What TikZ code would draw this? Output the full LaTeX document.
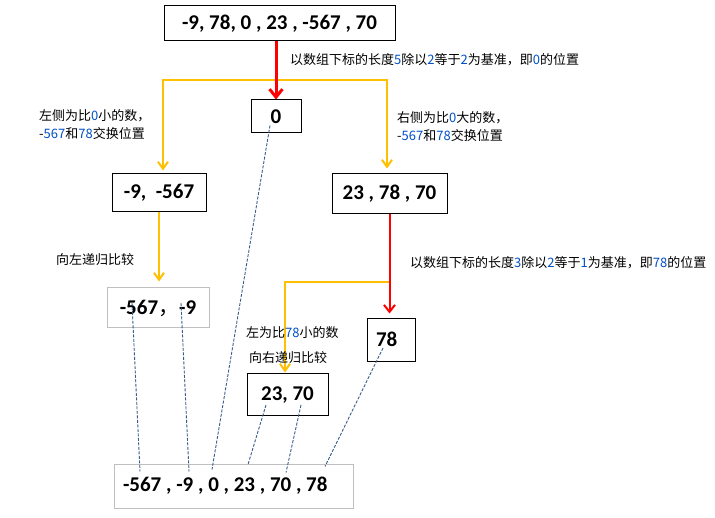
\documentclass[tikz,border=0pt]{standalone}
\usepackage{fontspec}
\setmainfont{Carlito}
\newfontfamily\cjk{Noto Sans CJK SC}
\usetikzlibrary{arrows.meta}
\definecolor{org}{RGB}{255,192,0}
\definecolor{rd}{RGB}{255,0,0}
\definecolor{dln}{RGB}{56,93,138}
\definecolor{nbl}{RGB}{0,80,200}
\definecolor{gbx}{RGB}{191,191,191}
\newcommand\bluenum[1]{\textcolor{nbl}{#1}}
\begin{document}
\begin{tikzpicture}[x=1pt,y=-1pt,
  box/.style={draw=black, line width=1pt, inner sep=0pt, font=\fontsize{21}{24}\selectfont\bfseries},
  gbox/.style={box, draw=gbx},
  lab/.style={inner sep=0pt, anchor=west, align=left, font=\cjk\fontsize{13}{18}\selectfont},
  redthick/.style={draw=rd, line width=3pt, -{Straight Barb[length=8pt,width=13pt,line width=3pt]}},
  redthin/.style={draw=rd, line width=2pt, -{Straight Barb[length=7pt,width=11pt,line width=2pt]}},
  orgarr/.style={draw=org, line width=2pt, -{Straight Barb[length=7pt,width=10pt,line width=2pt]}},
  dashln/.style={draw=dln, line width=0.9pt, dash pattern=on 3pt off 1.5pt}
]
\fill[white] (0,0) rectangle (715,518);
\useasboundingbox (0,0) rectangle (715,518);

\node[box, minimum width=231, minimum height=35] (top) at (279.5,23.5) {-9, 78, 0 , 23 , -567 , 70};
\node[box, minimum width=50, minimum height=33] (zero) at (276,116.5) {0};
\node[box, minimum width=94, minimum height=38] (b1) at (159,193) {-9,\ \ -567};
\node[box, minimum width=115, minimum height=40] (b2) at (389.5,194) {23 , 78 , 70};
\node[gbox, minimum width=102, minimum height=40] (b3) at (158,308) {-567{\cjk\mdseries ，}-9};
\node[box, minimum width=48, minimum height=43] (b4) at (391,340.5) {\makebox[30pt][l]{\raisebox{2pt}{78}}};
\node[box, minimum width=81, minimum height=42] (b5) at (287.5,395) {23, 70};
\node[gbox, minimum width=239, minimum height=44] (bot) at (233.5,486) {\makebox[221pt][l]{\raisebox{2pt}{-567 , -9 , 0 , 23 , 70 , 78}}};

% orange connectors
\coordinate (s1) at (276,80);
\draw[orgarr, shorten >=3pt] (s1) -| ([xshift=4]b1.north);
\draw[orgarr, shorten >=5pt] (s1) -| ([xshift=-2.5]b2.north);
\draw[orgarr, shorten >=6pt] (b1.south) -- (b1.south |- b3.north);
\coordinate (s2) at (389,282);
\draw[orgarr, shorten >=1pt] (s2) -| ([xshift=-2.5]b5.north);
% red connectors
\draw[redthick] (top.south -| zero.north) -- (zero.north);
\draw[redthin, shorten >=5pt] (b2.south) -- (b2.south |- b4.north);

% dashed connectors
\draw[dashln] ([shift={(-6,-8)}]zero.south) -- ([shift={(-21.5,6)}]bot.north);
\draw[dashln] ([shift={(-26,-5)}]b3.center) -- ([shift={(-93.5,8)}]bot.north);
\draw[dashln] ([shift={(23,-5)}]b3.center) -- ([shift={(-44.5,8)}]bot.north);
\draw[dashln] ([shift={(-21.5,10)}]b5.center) -- ([shift={(14.5,1)}]bot.north);
\draw[dashln] ([shift={(13.5,10)}]b5.center) -- ([shift={(52.5,9)}]bot.north);
\draw[dashln] ([shift={(-8,7.5)}]b4.center) -- ([shift={(91.5,3)}]bot.north);

% labels
\node[lab] (l1) at (290,60) {以数组下标的长度\bluenum{5}除以\bluenum{2}等于\bluenum{2}为基准，即\bluenum{0}的位置};
\node[lab] (l2) at (39,125) {左侧为比\bluenum{0}小的数，\\-\bluenum{567}和\bluenum{78}交换位置};
\node[lab] (l3) at (397,127) {右侧为比\bluenum{0}大的数，\\-\bluenum{567}和\bluenum{78}交换位置};
\node[lab] (l4) at (56,260) {向左递归比较};
\node[lab] (l5) at (410,263) {以数组下标的长度\bluenum{3}除以\bluenum{2}等于\bluenum{1}为基准，即\bluenum{78}的位置};
\node[lab] (l6) at (246,333) {左为比\bluenum{78}小的数};
\node[lab] (l7) at (249,358) {向右递归比较};
\end{tikzpicture}
\end{document}
